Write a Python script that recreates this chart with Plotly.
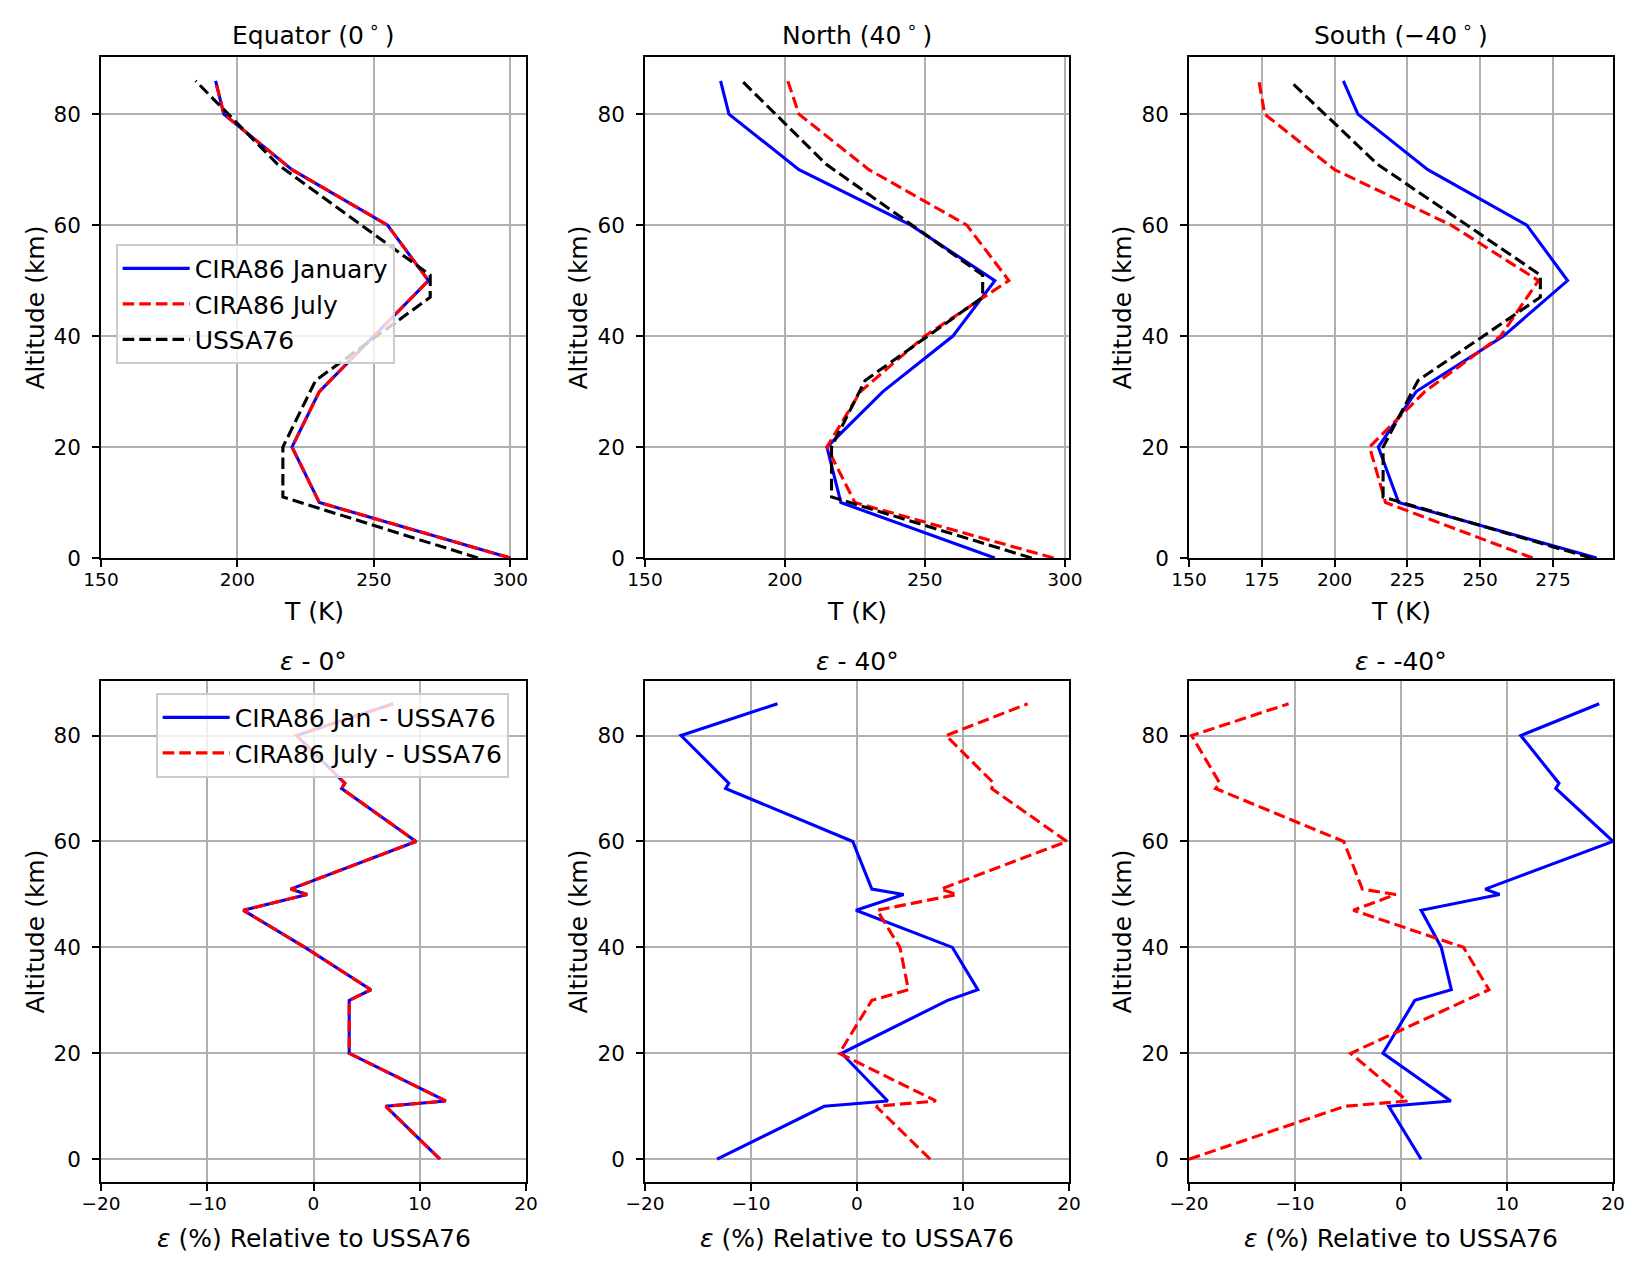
import plotly.graph_objects as go

# ---------------- data ----------------
ALT_CIRA = [0, 10, 20, 30, 40, 50, 60, 70, 80, 86]
ALT_USSA = [0, 11, 20, 32, 47, 51, 71, 86]
T_USSA = [288.15, 216.65, 216.65, 228.65, 270.65, 270.65, 214.65, 184.65]

T_EQ_JAN = [300, 230, 220, 230, 250, 270, 255, 220, 195, 192]
T_EQ_JUL = [300, 230, 220, 230, 250, 270, 255, 220, 195, 192]
T_N_JAN = [275, 220, 215, 235, 260, 275, 245, 205, 180, 177]
T_N_JUL = [296, 225, 215, 227, 250, 280, 265, 230, 205, 201]
T_S_JAN = [290, 222, 215, 228, 258, 280, 266, 232, 208, 203]
T_S_JUL = [268, 217.5, 212, 231, 257, 270, 240, 200, 176, 174]

ALT_EPS = [0, 10, 11, 20, 30, 32, 40, 47, 50, 51, 60, 70, 71, 80, 86]
EPS_EQ_JAN = [11.9, 6.8, 12.45, 3.36, 3.36, 5.4, -0.8, -6.6, -0.6, -2.15, 9.65, 2.65, 2.95, -1.6, 7.5]
EPS_EQ_JUL = [11.9, 6.8, 12.45, 3.36, 3.36, 5.4, -0.8, -6.6, -0.6, -2.15, 9.65, 2.65, 2.95, -1.6, 7.5]
EPS_N_JAN = [-13.2, -3.1, 2.9, -1.45, 8.55, 11.4, 9.0, -0.1, 4.4, 1.4, -0.4, -12.4, -12.1, -16.6, -7.5]
EPS_N_JUL = [6.9, 1.8, 7.45, -1.67, 1.4, 4.85, 4.05, 1.9, 9.43, 7.9, 19.8, 12.7, 12.9, 8.4, 16.1]
EPS_S_JAN = [1.9, -1.15, 4.7, -1.7, 1.3, 4.75, 3.8, 1.9, 9.3, 7.95, 20.0, 14.6, 14.9, 11.3, 18.7]
EPS_S_JUL = [-20.0, -5.3, 0.6, -4.75, 6.1, 8.3, 5.9, -4.5, -0.5, -3.65, -5.4, -17.5, -17.1, -19.75, -10.6]

T_TICKS = [150, 200, 250, 300]
T_TICKS_SOUTH = [150, 175, 200, 225, 250, 275]
ALT_TICKS = [0, 20, 40, 60, 80]
EPS_TICKS = [-20, -10, 0, 10, 20]
EPS_TICK_TEXT = ["\u221220", "\u221210", "0", "10", "20"]

TOP_TITLES = ["Equator (0\u2009<sup>\u2218</sup>\u2009)", "North (40\u2009<sup>\u2218</sup>\u2009)",
              "South (\u221240\u2009<sup>\u2218</sup>\u2009)"]
BOT_TITLES = ["<i>\u03b5</i> - 0\u00b0", "<i>\u03b5</i> - 40\u00b0", "<i>\u03b5</i> - -40\u00b0"]
LEG_T = ["CIRA86 January", "CIRA86 July", "USSA76"]
LEG_E = ["CIRA86 Jan - USSA76", "CIRA86 July - USSA76"]

# ---------------- style ----------------
W, H = 1650, 1275
FONT = "DejaVu Sans"
LW = 3.1
DASH = "11.6px,5px"
BLUE, RED, BLACK = "#0000ff", "#ff0000", "#000000"
GRID = "#b0b0b0"

col_px = [(101, 526), (645, 1069), (1189, 1613)]
row_px = [(57, 558), (681, 1182)]
xdom = [[a / W, b / W] for a, b in col_px]
ydom = [[1 - b / H, 1 - a / H] for a, b in row_px]

fig = go.Figure()

t_sets = [(T_EQ_JAN, T_EQ_JUL), (T_N_JAN, T_N_JUL), (T_S_JAN, T_S_JUL)]
e_sets = [(EPS_EQ_JAN, EPS_EQ_JUL), (EPS_N_JAN, EPS_N_JUL), (EPS_S_JAN, EPS_S_JUL)]

for i, (jan, jul) in enumerate(t_sets):
    ax = i + 1
    xa, ya = f"x{ax}", f"y{ax}"
    show = i == 0
    fig.add_trace(go.Scatter(x=jan, y=ALT_CIRA, mode="lines", xaxis=xa, yaxis=ya,
                             line=dict(color=BLUE, width=LW), name=LEG_T[0], showlegend=show, legend="legend"))
    fig.add_trace(go.Scatter(x=jul, y=ALT_CIRA, mode="lines", xaxis=xa, yaxis=ya,
                             line=dict(color=RED, width=LW, dash=DASH), name=LEG_T[1], showlegend=show, legend="legend"))
    fig.add_trace(go.Scatter(x=T_USSA, y=ALT_USSA, mode="lines", xaxis=xa, yaxis=ya,
                             line=dict(color=BLACK, width=LW, dash=DASH), name=LEG_T[2], showlegend=show, legend="legend"))

for i, (jan, jul) in enumerate(e_sets):
    ax = i + 4
    xa, ya = f"x{ax}", f"y{ax}"
    show = i == 0
    fig.add_trace(go.Scatter(x=jan, y=ALT_EPS, mode="lines", xaxis=xa, yaxis=ya,
                             line=dict(color=BLUE, width=LW), name=LEG_E[0], showlegend=show, legend="legend2"))
    fig.add_trace(go.Scatter(x=jul, y=ALT_EPS, mode="lines", xaxis=xa, yaxis=ya,
                             line=dict(color=RED, width=LW, dash=DASH), name=LEG_E[1], showlegend=show, legend="legend2"))

x_ranges = [[150, 305.75], [150, 301.5], [150, 295.6]]
x_tickvals = [T_TICKS, T_TICKS, T_TICKS_SOUTH]

layout = dict(width=W, height=H, margin=dict(l=0, r=0, t=0, b=0, autoexpand=False),
              paper_bgcolor="white", plot_bgcolor="white", template="none",
              font=dict(family=FONT, size=21, color="black"))

common = dict(showgrid=True, gridcolor=GRID, gridwidth=1.67, zeroline=False, automargin=False,
              showline=True, linecolor="black", linewidth=1.67, mirror=True,
              ticks="outside", ticklen=7, tickwidth=1.67, tickcolor="black")

for k in range(6):
    r, c = divmod(k, 3)
    ax = k + 1
    xkey = "xaxis" if ax == 1 else f"xaxis{ax}"
    ykey = "yaxis" if ax == 1 else f"yaxis{ax}"
    if r == 0:
        xa = dict(common, domain=xdom[c], range=x_ranges[c], tickvals=x_tickvals[c],
                  ticktext=[str(v) for v in x_tickvals[c]], anchor=f"y{ax}",
                  tickfont=dict(size=18.5, family=FONT), ticklabelstandoff=-3)
        yr = [0, 90.3]
    else:
        xa = dict(common, domain=xdom[c], range=[-20, 20], tickvals=EPS_TICKS,
                  ticktext=EPS_TICK_TEXT, anchor=f"y{ax}", tickfont=dict(size=18.5, family=FONT),
                  ticklabelstandoff=-3)
        yr = [-4.3, 90.3]
    ya = dict(common, domain=ydom[r], range=yr, tickvals=ALT_TICKS,
              ticktext=[str(v) for v in ALT_TICKS], anchor=f"x{ax}",
              tickfont=dict(size=21.5, family=FONT), ticklabelstandoff=7)
    layout[xkey] = xa
    layout[ykey] = ya

layout["legend"] = dict(x=116 / W, y=1 - 244 / H, xanchor="left", yanchor="top",
                        bgcolor="rgba(255,255,255,0.8)", bordercolor="#cccccc", borderwidth=1.67,
                        font=dict(size=25, family=FONT), itemwidth=67, tracegroupgap=0)
layout["legend2"] = dict(x=156 / W, y=1 - 693 / H, xanchor="left", yanchor="top",
                         bgcolor="rgba(255,255,255,0.8)", bordercolor="#cccccc", borderwidth=1.67,
                         font=dict(size=25, family=FONT), itemwidth=67, tracegroupgap=0)

annotations = []
for c in range(3):
    cx = (col_px[c][0] + col_px[c][1]) / 2 / W
    annotations.append(dict(text=TOP_TITLES[c], x=cx, y=1 - 34 / H, xref="paper", yref="paper",
                            xanchor="center", yanchor="middle", showarrow=False,
                            font=dict(size=25, family=FONT)))
    annotations.append(dict(text=BOT_TITLES[c], x=cx, y=1 - 661 / H, xref="paper", yref="paper",
                            xanchor="center", yanchor="middle", showarrow=False,
                            font=dict(size=25, family=FONT)))
    annotations.append(dict(text="T (K)", x=cx, y=1 - 611 / H, xref="paper", yref="paper",
                            xanchor="center", yanchor="middle", showarrow=False,
                            font=dict(size=25, family=FONT)))
    annotations.append(dict(text="<i>\u03b5</i> (%) Relative to USSA76", x=cx, y=1 - 1238 / H,
                            xref="paper", yref="paper", xanchor="center", yanchor="middle",
                            showarrow=False, font=dict(size=25, family=FONT)))
    ylx = [35, 578, 1122][c] / W
    for r in range(2):
        cy = 1 - (row_px[r][0] + row_px[r][1]) / 2 / H
        annotations.append(dict(text="Altitude (km)", x=ylx, y=cy, xref="paper", yref="paper",
                                xanchor="center", yanchor="middle", showarrow=False, textangle=-90,
                                font=dict(size=25, family=FONT)))
layout["annotations"] = annotations

fig.update_layout(**layout)
fig.write_html("out.html")
